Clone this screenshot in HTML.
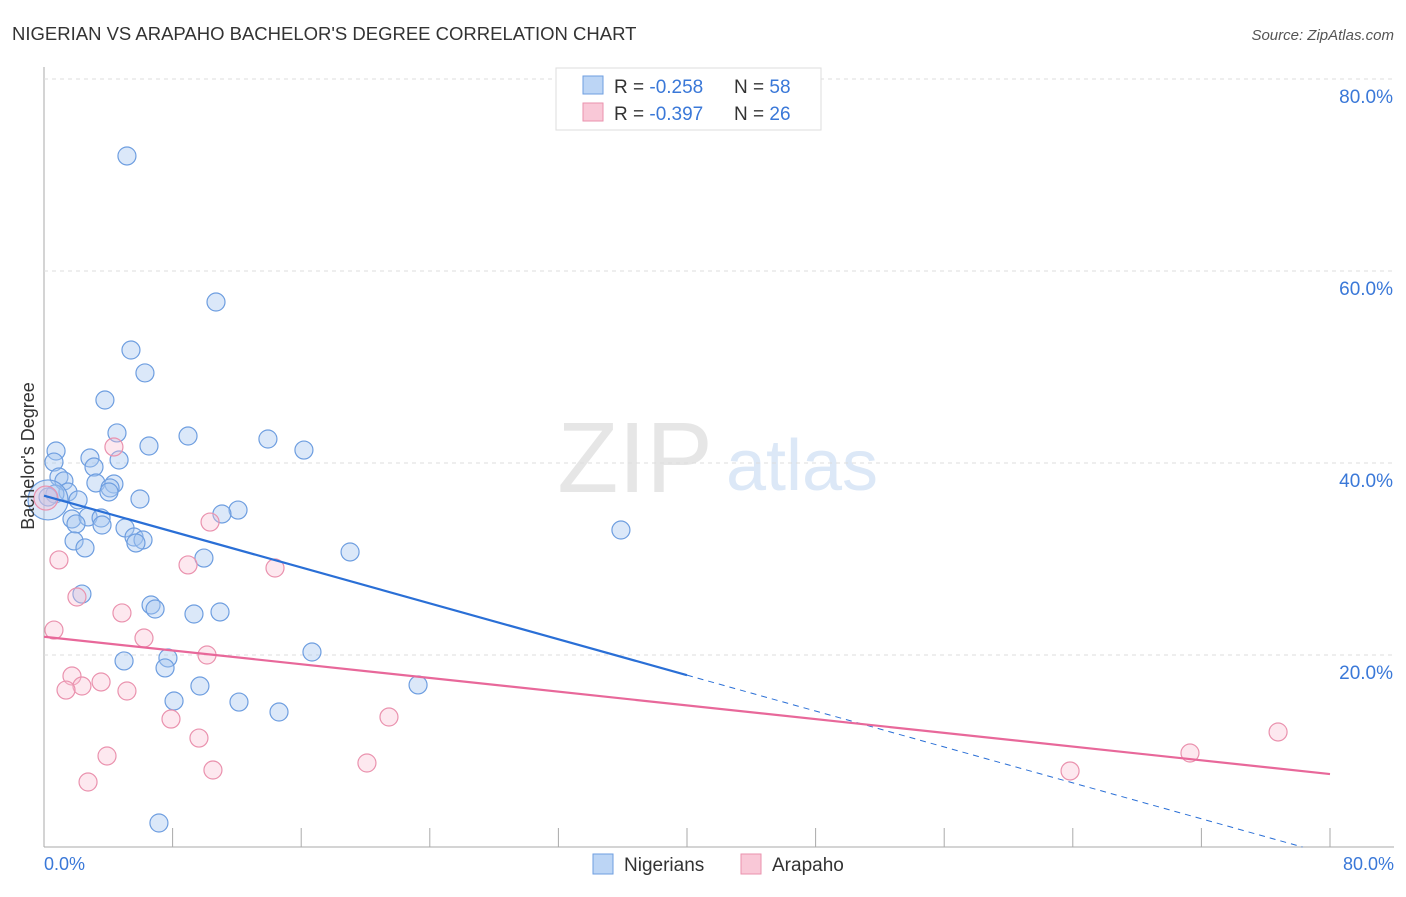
<!DOCTYPE html>
<html><head><meta charset="utf-8"><style>
body{margin:0;background:#fff;font-family:"Liberation Sans",sans-serif;}
svg text{font-family:"Liberation Sans",sans-serif;}
</style></head><body>
<svg id="c" width="1406" height="892">
<text x="12" y="40" font-size="18.5" fill="#333">NIGERIAN VS ARAPAHO BACHELOR'S DEGREE CORRELATION CHART</text>
<text x="1394" y="40" font-size="15" fill="#555" font-style="italic" text-anchor="end">Source: ZipAtlas.com</text>
<text x="635" y="492" font-size="100" fill="#e6e6e6" font-family="Liberation Serif" text-anchor="middle">ZIP</text>
<text x="802" y="490" font-size="72" fill="#dce8f7" text-anchor="middle">atlas</text>
<g id="grid"></g><g id="pts"></g><g id="lines"></g>
<text x="34" y="456" font-size="18" fill="#333" text-anchor="middle" transform="rotate(-90 34 456)">Bachelor's Degree</text>
<text x="44" y="870" font-size="18" fill="#3a78d8">0.0%</text>
<text x="1394" y="870" font-size="18" fill="#3a78d8" text-anchor="end">80.0%</text>
<g>
<rect x="556" y="68" width="265" height="62" fill="#fff" stroke="#ddd"/>
<rect x="583" y="76" width="20" height="18" fill="#bcd5f5" stroke="#6e9ee0"/>
<rect x="583" y="103" width="20" height="18" fill="#f9c8d7" stroke="#ea92ae"/>
<text x="614" y="93" font-size="19" fill="#333">R = <tspan fill="#3a78d8">-0.258</tspan><tspan x="734">N = </tspan><tspan fill="#3a78d8">58</tspan></text>
<text x="614" y="120" font-size="19" fill="#333">R = <tspan fill="#3a78d8">-0.397</tspan><tspan x="734">N = </tspan><tspan fill="#3a78d8">26</tspan></text>
</g>
<g>
<rect x="593" y="854" width="20" height="20" fill="#bcd5f5" stroke="#6e9ee0"/>
<text x="624" y="871" font-size="19" fill="#333">Nigerians</text>
<rect x="741" y="854" width="20" height="20" fill="#f9c8d7" stroke="#ea92ae"/>
<text x="772" y="871" font-size="19" fill="#333">Arapaho</text>
</g>
</svg>
<script>
const yTicks=[20,40,60,80];
const xTicks=[0,8,16,24,32,40,48,56,64,72,80];
const nigX=[5.16,10.70,5.41,6.28,3.79,4.54,8.96,13.93,6.53,16.17,0.75,2.86,4.67,0.62,3.11,0.93,1.24,3.23,4.35,4.11,4.04,1.49,0.68,0.25,2.12,5.97,12.07,11.07,1.74,2.74,3.55,3.61,1.99,5.04,5.60,6.16,5.72,1.87,2.55,19.04,35.89,9.95,2.36,6.66,6.91,9.33,10.95,16.67,4.98,7.71,7.53,23.27,9.70,8.09,12.13,14.62,7.15,0.25];
const nigY=[71.98,56.77,51.77,49.38,46.56,43.13,42.81,42.50,41.77,41.35,41.25,40.52,40.31,40.10,39.58,38.54,38.13,37.92,37.81,37.40,36.98,36.98,36.77,36.46,36.15,36.25,35.10,34.69,34.17,34.38,34.27,33.54,33.65,33.23,32.29,31.98,31.67,31.88,31.15,30.73,33.02,30.10,26.35,25.21,24.79,24.27,24.48,20.31,19.38,19.69,18.65,16.88,16.77,15.21,15.10,14.06,2.50,36.15];
const araX=[4.35,10.33,0.93,8.96,14.37,2.05,4.85,0.62,6.22,10.14,1.74,3.55,2.36,1.37,5.16,7.90,21.46,9.64,3.92,76.77,71.29,10.51,20.09,2.74,63.83,0.12];
const araY=[41.67,33.85,29.90,29.38,29.06,26.04,24.38,22.60,21.77,20.0,17.81,17.19,16.77,16.35,16.25,13.33,13.54,11.35,9.48,11.98,9.79,8.02,8.75,6.77,7.92,36.35];
const nigTrend=[36.6,17.9,40];
const araTrend=[21.9,7.6];
const X=v=>44+v*16.075, Y=v=>847-v*9.6;
const NS='http://www.w3.org/2000/svg';
function mk(t,a,p){const e=document.createElementNS(NS,t);for(const k in a)e.setAttribute(k,a[k]);p.appendChild(e);return e;}
const g=document.getElementById('grid');
let ax=mk('line',{x1:44,y1:67,x2:44,y2:847,stroke:'#aaa'},g);


let bx=mk('line',{x1:44,y1:847,x2:1394,y2:847,stroke:'#aaa'},g);


yTicks.forEach(t=>{let l=mk('line',{x1:44,y1:Y(t),x2:1394,y2:Y(t),stroke:'#ddd','stroke-dasharray':'4,4'},g);


let s=mk('text',{x:1393,y:Y(t)+24,'font-size':19,fill:'#3a78d8','text-anchor':'end'},g);s.textContent=t.toFixed(1)+'%';

});
xTicks.forEach(t=>{let l=mk('line',{x1:X(t),y1:828,x2:X(t),y2:847,stroke:'#aaa'},g);

});
const p=document.getElementById('pts');
nigX.forEach((x,i)=>{let c=mk('circle',{cx:X(x),cy:Y(nigY[i]),r:i==nigX.length-1?20:9,fill:'rgba(165,198,240,0.4)',stroke:'#6e9ee0','stroke-width':1.2},p);

});
araX.forEach((x,i)=>{let c=mk('circle',{cx:X(x),cy:Y(araY[i]),r:i==araX.length-1?12:9,fill:'rgba(248,190,208,0.35)',stroke:'#ea92ae','stroke-width':1.2},p);

});
const L=document.getElementById('lines');
const sl=(nigTrend[1]-nigTrend[0])/nigTrend[2];
let b1=mk('line',{x1:X(0),y1:Y(nigTrend[0]),x2:X(nigTrend[2]),y2:Y(nigTrend[1]),stroke:'#2a6fd6','stroke-width':2.2},L);


const xz=-nigTrend[0]/sl;
let b2=mk('line',{x1:X(nigTrend[2]),y1:Y(nigTrend[1]),x2:X(xz),y2:Y(0),stroke:'#2a6fd6','stroke-width':1,'stroke-dasharray':'6,5'},L);


let p1=mk('line',{x1:X(0),y1:Y(araTrend[0]),x2:X(80),y2:Y(araTrend[1]),stroke:'#e8689a','stroke-width':2.2},L);


</script>
</body></html>
